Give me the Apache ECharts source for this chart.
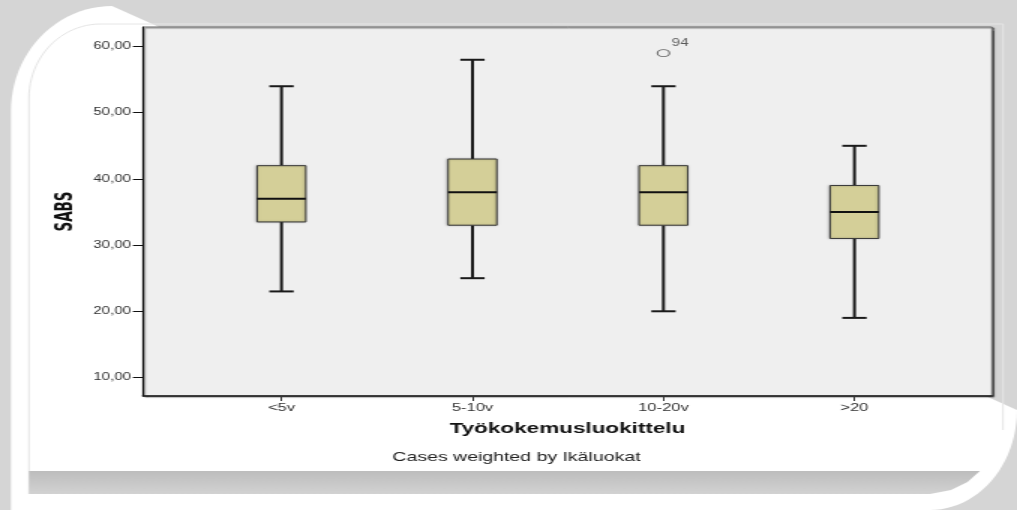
<!DOCTYPE html>
<html>
<head>
<meta charset="utf-8">
<script src="https://cdn.jsdelivr.net/npm/echarts@6/dist/echarts.min.js"></script>
<style>
  html, body { margin: 0; padding: 0; overflow: hidden; background: #d6d6d6; }
  #chart { width: 678px; height: 510px; transform: scaleX(1.5); transform-origin: 0 0; }
</style>
</head>
<body>
<div id="chart"></div>
<script>
// ---- data ----
var categories = ['<5v', '5-10v', '10-20v', '>20'];
var lowWhisker = [23, 25, 20, 19];
var q1 = [33.5, 33, 33, 31];
var median = [37, 38, 38, 35];
var q3 = [42, 43, 42, 39];
var highWhisker = [54, 58, 54, 45];
var outlierCategory = ['10-20v'];
var outlierValue = [59];
var outlierCase = ['94'];
var yTickValues = [10, 20, 30, 40, 50, 60];
var yAxisTitle = 'SABS';
var xAxisTitle = 'Työkokemusluokittelu';
var footnote = 'Cases weighted by Ikäluokat';

// ---- build ----
var boxData = categories.map(function (c, i) {
  return [i, lowWhisker[i], q1[i], median[i], q3[i], highWhisker[i]];
});
var outlierData = outlierCategory.map(function (c, i) {
  return [categories.indexOf(c), outlierValue[i]];
});

// decorative frame helpers
function arc(cx, cy, rx, ry, a0, a1) {
  var pts = [], n = 24;
  for (var k = 0; k <= n; k++) {
    var a = (a0 + (a1 - a0) * k / n) * Math.PI / 180;
    pts.push([cx + rx * Math.cos(a), cy + ry * Math.sin(a)]);
  }
  return pts;
}
var cardPts = [[7.3, 510]].concat(arc(74.7, 111, 67.4, 105, 180, 270))
  .concat(arc(620, 410, 58, 100, 0, 90));
var innerPts = [[19.3, 494]].concat(arc(67, 98, 47.7, 74, 180, 270))
  .concat([[668.7, 24], [668.7, 430]]);
var bandPts = [[19.3, 471], [653.3, 471], [645, 482], [634, 490], [620, 494], [19.3, 494]];

var FONT = "'Liberation Sans', Arial, sans-serif";
var yMin = 7.2, yMax = 62.95;

var chart = echarts.init(document.getElementById('chart'));
chart.setOption({
  animation: false,
  textStyle: { fontFamily: FONT },
  graphic: [
    { type: 'rect', z: -20, shape: { x: 0, y: 0, width: 678, height: 510 },
      style: { fill: '#d5d5d5' } },
    { type: 'polygon', z: -19, shape: { points: cardPts }, style: { fill: '#ffffff' } },
    { type: 'polyline', z: -18, shape: { points: innerPts },
      style: { fill: null, stroke: '#e6e6e6', lineWidth: 1 } },
    { type: 'polygon', z: -17, shape: { points: bandPts },
      style: { fill: { type: 'linear', x: 0, y: 0, x2: 0, y2: 1,
        colorStops: [{ offset: 0, color: '#bdbdbd' }, { offset: 1, color: '#d2d2d2' }] } } },
    { type: 'text', z: 10, x: 344.3, y: 457,
      style: { text: footnote, fontSize: 13, fontFamily: FONT, fill: '#222',
               textAlign: 'center', textVerticalAlign: 'middle' } }
  ],
  grid: [
    { left: 95.3, right: 16.7, top: 27, bottom: 114, show: true,
      backgroundColor: '#efefef', borderColor: '#666', borderWidth: 1,
      shadowColor: 'rgba(0,0,0,0.45)', shadowOffsetX: 1.3, shadowOffsetY: 1, shadowBlur: 1 },
    { left: 124, right: 44.7, top: 27, bottom: 114, show: false }
  ],
  xAxis: [
    { type: 'value', gridIndex: 0, min: 0, max: 1,
      axisLine: { show: true, onZero: false, lineStyle: { color: '#1a1a1a', width: 1.5 } },
      axisTick: { show: false }, axisLabel: { show: false }, splitLine: { show: false },
      name: xAxisTitle, nameLocation: 'middle', nameGap: 25,
      nameTextStyle: { fontSize: 15, fontWeight: 'bold', color: '#111', fontFamily: FONT } },
    { type: 'category', gridIndex: 1, data: categories, boundaryGap: true,
      axisLine: { show: false },
      axisTick: { show: true, alignWithLabel: true, length: 5, lineStyle: { color: '#333', width: 1 } },
      axisLabel: { margin: 6, fontSize: 11, color: '#333', fontFamily: FONT },
      splitLine: { show: false } }
  ],
  yAxis: [
    { type: 'value', gridIndex: 0, min: yMin, max: yMax,
      axisLine: { show: true, onZero: false, lineStyle: { color: '#111', width: 1 } },
      axisTick: { show: true, length: 6.7, customValues: yTickValues, lineStyle: { color: '#111', width: 1 } },
      axisLabel: { customValues: yTickValues, margin: 8, fontSize: 10, color: '#333', fontFamily: FONT,
        formatter: function (v) { return v.toFixed(2).replace('.', ','); } },
      splitLine: { show: false },
      name: yAxisTitle, nameLocation: 'middle', nameRotate: 90, nameGap: 44,
      nameTextStyle: { fontSize: 15, fontWeight: 'bold', color: '#111',
        fontFamily: "'Liberation Sans Narrow', 'Arial Narrow', 'DejaVu Sans Condensed', " + FONT } },
    { type: 'value', gridIndex: 1, min: yMin, max: yMax, show: false,
      splitLine: { show: false } }
  ],
  series: [
    {
      type: 'custom', xAxisIndex: 1, yAxisIndex: 1, data: boxData,
      encode: { x: 0, y: [1, 2, 3, 4, 5] },
      renderItem: function (params, api) {
        var xi = api.value(0);
        var pLow = api.coord([xi, api.value(1)]);
        var pQ1 = api.coord([xi, api.value(2)]);
        var pMed = api.coord([xi, api.value(3)]);
        var pQ3 = api.coord([xi, api.value(4)]);
        var pHigh = api.coord([xi, api.value(5)]);
        var band = api.size([1, 0])[0];
        var bw = band * 0.255, cw = bw * 0.5;
        var cx = pMed[0];
        var ls = { stroke: '#1a1a1a', lineWidth: 2 };
        return { type: 'group', children: [
          { type: 'line', shape: { x1: cx, y1: pLow[1], x2: cx, y2: pQ1[1] }, style: ls },
          { type: 'line', shape: { x1: cx, y1: pQ3[1], x2: cx, y2: pHigh[1] }, style: ls },
          { type: 'line', shape: { x1: cx - cw / 2, y1: pLow[1], x2: cx + cw / 2, y2: pLow[1] }, style: ls },
          { type: 'line', shape: { x1: cx - cw / 2, y1: pHigh[1], x2: cx + cw / 2, y2: pHigh[1] }, style: ls },
          { type: 'rect', shape: { x: cx - bw / 2, y: pQ3[1], width: bw, height: pQ1[1] - pQ3[1] },
            style: { fill: '#d4cf98', stroke: '#3a3a3a', lineWidth: 1,
                     shadowColor: 'rgba(0,0,0,0.25)', shadowBlur: 2, shadowOffsetX: -0.5 } },
          { type: 'line', shape: { x1: cx - bw / 2, y1: pMed[1], x2: cx + bw / 2, y2: pMed[1] },
            style: { stroke: '#111', lineWidth: 2 } }
        ] };
      }
    },
    {
      type: 'scatter', xAxisIndex: 1, yAxisIndex: 1, data: outlierData,
      symbol: 'circle', symbolSize: [8, 7],
      itemStyle: { color: 'rgba(0,0,0,0)', borderColor: '#444', borderWidth: 1 },
      label: { show: true, position: 'right', distance: 1, offset: [0, -10],
        fontSize: 10, color: '#333', fontFamily: FONT,
        formatter: function (p) { return outlierCase[p.dataIndex]; } }
    }
  ]
});
</script>
</body>
</html>
